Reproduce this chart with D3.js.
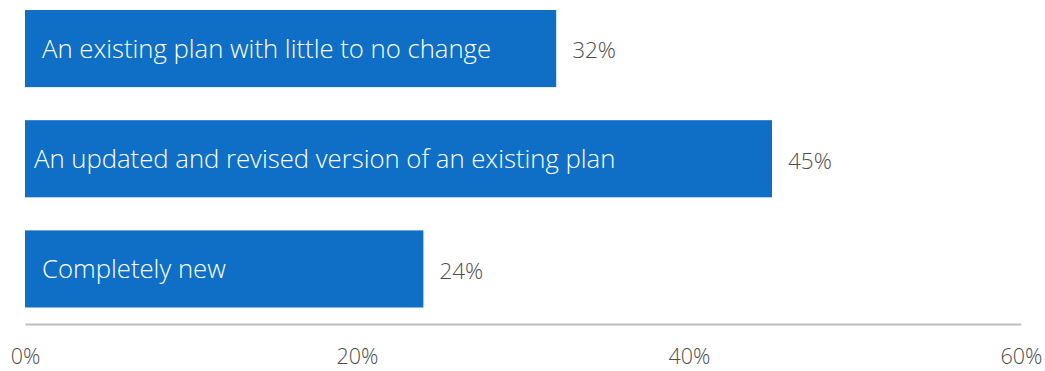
<!DOCTYPE html>
<html>
<head>
<meta charset="utf-8">
<script src="https://cdn.jsdelivr.net/npm/d3@7"></script>
<style>
  html, body { margin: 0; padding: 0; background: #ffffff; }
  svg { display: block; font-family: "Open Sans", "Noto Sans", sans-serif; font-weight: 300; }
</style>
</head>
<body>
<svg id="chart" width="1045" height="371"></svg>
<script>
// Survey answers and their shares (percent)
const categories = [
  "An existing plan with little to no change",
  "An updated and revised version of an existing plan",
  "Completely new"
];
const values = [32, 45, 24];
const tickValues = [0, 20, 40, 60];
const tickLabels = ["0%", "20%", "40%", "60%"];

// left inset of the in-bar label text
const labelInset = [17, 9, 17];

const svg = d3.select("#chart");
const barColor = "#0F6FC6";
const textGray = "#4D4D4D";

const x = d3.scaleLinear().domain([0, 60]).range([25, 1021]);
const y = d3.scaleBand().domain(categories).range([10, 307.5]).paddingInner(0.3).paddingOuter(0);

const rows = categories.map((c, i) => ({ cat: c, val: values[i], inset: labelInset[i] }));

// bars
svg.append("g").selectAll("rect")
  .data(rows)
  .join("rect")
  .attr("x", x(0))
  .attr("y", d => y(d.cat))
  .attr("width", d => x(d.val) - x(0))
  .attr("height", y.bandwidth())
  .attr("fill", barColor);

// category labels inside bars
svg.append("g").selectAll("text")
  .data(rows)
  .join("text")
  .attr("x", d => x(0) + d.inset)
  .attr("y", d => y(d.cat) + y.bandwidth() / 2)
  .attr("dy", "0.35em")
  .attr("fill", "#ffffff")
  .style("font-size", "25.7px")
  .text(d => d.cat);

// value labels after bars
svg.append("g").selectAll("text")
  .data(rows)
  .join("text")
  .attr("x", d => x(d.val) + 16)
  .attr("y", d => y(d.cat) + y.bandwidth() / 2 + 2)
  .attr("dy", "0.35em")
  .attr("fill", textGray)
  .style("font-size", "22.5px")
  .text(d => d.val + "%");

// bottom axis
const axis = d3.axisBottom(x)
  .tickValues(tickValues)
  .tickFormat((d, i) => tickLabels[i])
  .tickSize(0)
  .tickPadding(25);

const gx = svg.append("g")
  .attr("transform", "translate(0,324)")
  .call(axis);
gx.select(".domain").attr("stroke", "#BFBFBF").attr("stroke-width", 2);
gx.selectAll("text")
  .attr("fill", textGray)
  .style("font-size", "21.5px")
  .style("font-weight", 300)
  .style("font-family", "\"Open Sans\", \"Noto Sans\", sans-serif");
</script>
</body>
</html>
